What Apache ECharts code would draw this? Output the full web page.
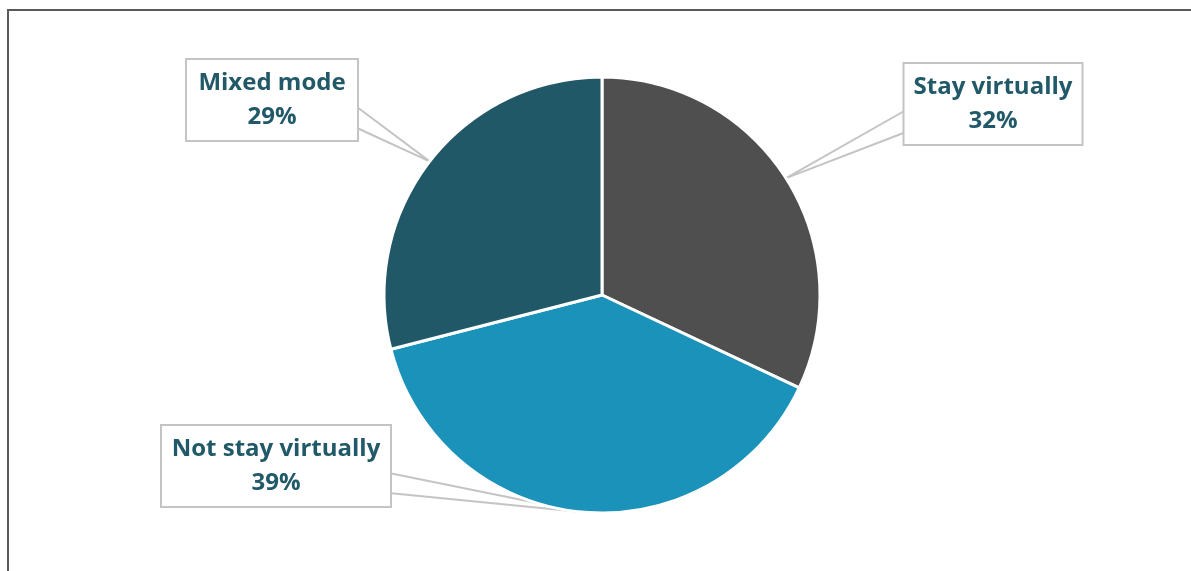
<!DOCTYPE html>
<html>
<head>
<meta charset="utf-8">
<script src="https://cdn.jsdelivr.net/npm/echarts@6/dist/echarts.min.js"></script>
<style>
  html, body { margin: 0; padding: 0; background: #fff; }
  #chart { width: 1191px; height: 571px; }
  #frame {
    position: absolute; left: 7px; top: 9px; width: 1184px; height: 562px;
    border-left: 2px solid #595959; border-top: 2px solid #595959;
    box-sizing: border-box; pointer-events: none;
  }
</style>
</head>
<body>
<div id="chart"></div>
<div id="frame"></div>
<script>
const categories = ['Stay virtually', 'Not stay virtually', 'Mixed mode']
const shares = [32, 39, 29]
const colors = ['#4f4f4f', '#1a92b9', '#215868']

// callout boxes: centre, inner width, and the two points where the wedge meets the box
const labelCenters = [[993, 104], [276, 466], [272, 100]]
const labelWidths = [163, 214, 156]
const wedgeBases = [
  [[906, 110], [906, 132]],
  [[389, 473], [389, 493]],
  [[357, 107], [357, 128]]
]

const chart = echarts.init(document.getElementById('chart'))

chart.setOption({
  animation: false,
  series: [{
    type: 'pie',
    center: [602, 295],
    radius: 218,
    startAngle: 90,
    clockwise: true,
    data: categories.map((name, i) => ({
      name,
      value: shares[i],
      itemStyle: { color: colors[i] },
      label: { width: labelWidths[i] }
    })),
    itemStyle: {
      borderColor: '#fff',
      borderWidth: 3
    },
    label: {
      show: true,
      formatter: '{b}\n{c}%',
      fontFamily: 'Open Sans',
      fontWeight: 'bold',
      fontSize: 24,
      lineHeight: 34,
      color: '#215968',
      align: 'center',
      backgroundColor: '#fff',
      borderColor: '#c4c4c4',
      borderWidth: 2,
      padding: [6, 7, 6, 7]
    },
    labelLine: {
      show: true,
      length: 20,
      length2: 20,
      lineStyle: {
        color: '#c4c4c4',
        width: 2
      }
    },
    labelLayout: params => {
      const i = params.dataIndex
      const tip = params.labelLinePoints[0]
      return {
        x: labelCenters[i][0],
        y: labelCenters[i][1],
        align: 'center',
        verticalAlign: 'middle',
        labelLinePoints: [wedgeBases[i][0], tip, wedgeBases[i][1]]
      }
    }
  }]
})
</script>
</body>
</html>
